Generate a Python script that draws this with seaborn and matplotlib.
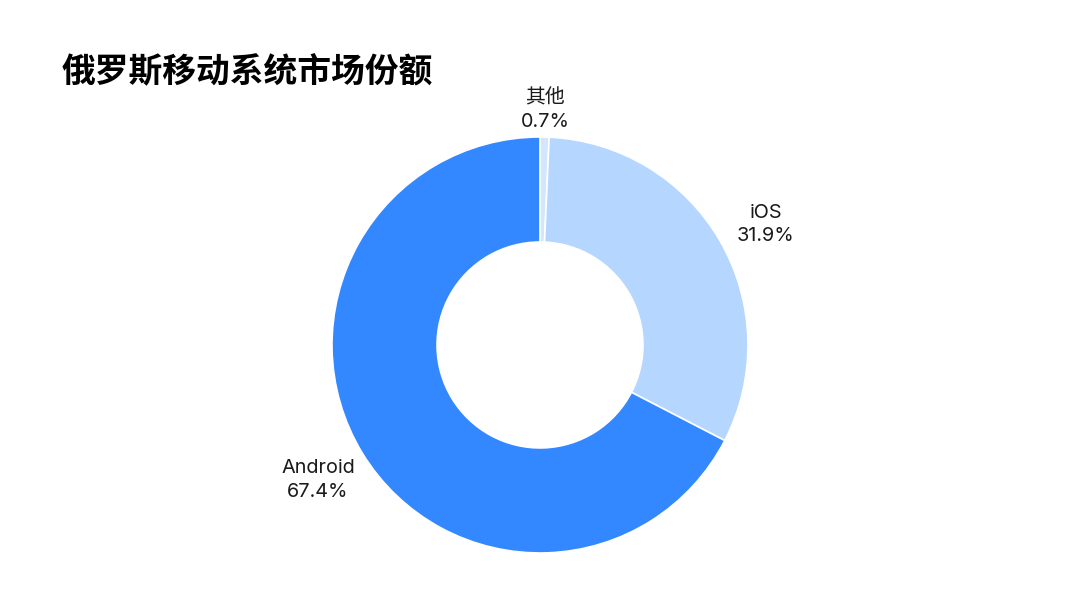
import matplotlib
matplotlib.use("Agg")
import matplotlib.pyplot as plt
import seaborn as sns
import numpy as np

sns.set_style("white")
plt.rcParams['font.family'] = ['Noto Sans CJK SC', 'DejaVu Sans']

# data
title = "俄罗斯移动系统市场份额"
labels = ["其他", "iOS", "Android"]
shares = [0.7, 31.9, 67.4]
colors = ["#d3e6fd", "#b5d7ff", "#3388ff"]

fig = plt.figure(figsize=(10.8, 6.08), dpi=100)
ax = fig.add_axes([0.3074, 0.0905, 0.3852, 0.6842])

wedges, _ = ax.pie(shares, colors=colors, startangle=90, counterclock=False,
                   radius=1, wedgeprops=dict(width=0.505, edgecolor="white", linewidth=1.2))

dists = [1.13, 1.23, 1.25]
for w, lab, val, d in zip(wedges, labels, shares, dists):
    ang = np.deg2rad((w.theta1 + w.theta2) / 2 - (2 if lab == "iOS" else 0))
    ax.text(d * np.cos(ang), d * np.sin(ang), f"{lab}\n{val}%",
            ha="center", va="center", fontsize=14.3, color="#1a1a1a", linespacing=1.4,
            family=['Inter', 'Noto Sans CJK SC'])

ax.set_xlim(-1, 1)
ax.set_ylim(-1, 1)
ax.set_aspect("equal")
ax.axis("off")

fig.text(62 / 1080, 1 - 72 / 608, title, fontsize=24.3, fontweight="bold",
         ha="left", va="center", color="black")

fig.savefig("out.png", dpi=100, facecolor="white")
